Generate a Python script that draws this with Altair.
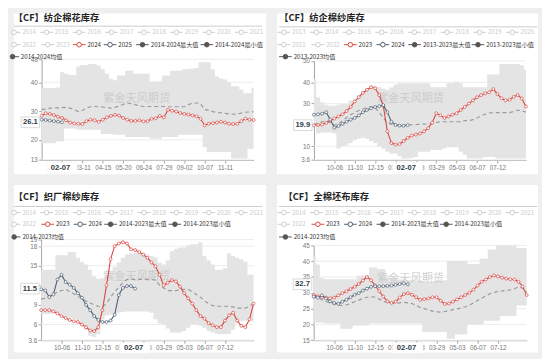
import altair as alt
import pandas as pd

N_WEEKS = 53
FONT_CJK = "Noto Sans CJK SC"
FONT_LAT = "Liberation Sans"
RED = "#d9463f"
DARK = "#4b5d70"
MEAN_C = "#9a9a9a"
BAND_C = "#e4e4e4"
GRID_C = "#ebebeb"
AXIS_C = "#a0a0a0"
LABEL_C = "#777777"
OFF_C = "#cccccc"
STAT_C = "#555555"
TXT_C = "#333333"
PTR_C = "#2f3b48"

watermark = "紫金天风期货"

# ---------------- panel 1 : 纺企棉花库存 ----------------
p1_title = "【CF】纺企棉花库存"
p1_off_years = ["2014", "2015", "2016", "2017", "2018", "2019", "2020", "2021", "2022", "2023"]
p1_on_years = ["2024", "2025"]
p1_stats = ["2014-2024最大值", "2014-2024最小值", "2014-2024均值"]
p1_xlabels = ["02-07", "03-11", "04-15", "05-20", "06-24", "07-29", "09-02", "10-07", "11-11"]
p1_yticks = [13, 20, 30, 40, 48]
p1_ydom = [13, 48]
p1_max = [38, 38, 38, 38, 38.2, 43.5, 43, 42.5, 42.5, 45.5, 46, 46, 46.4, 46.4, 45.8, 44.5, 43, 41.2,
          40.7, 42.4, 42.4, 44, 44, 43, 43, 43, 43, 40.3, 40.3, 40.3, 42.4, 42.4, 44, 44, 44, 44.5,
          44.7, 44.7, 45, 47, 47, 47, 44.5, 42, 41.3, 41, 40, 38.6, 38.6, 37.5, 36.2, 36.2, 38]
p1_min = [18.8, 18.8, 18.8, 18.8, 19.5, 19.5, 23.9, 23.9, 23.9, 23.5, 23.5, 23.5, 23.5, 23.5, 23.5,
          22, 22, 22, 21.8, 21.8, 21.8, 21, 21, 21, 21, 21, 21, 20.4, 20.4, 20.4, 21, 21, 21, 21,
          21.8, 21.8, 21.8, 21.8, 21.8, 21.8, 17.5, 15.8, 15.8, 15.8, 15.8, 15.8, 15.8, 13.5, 13.5,
          13.5, 13.5, 16.8, 16.8]
p1_mean = [30.5, 30.7, 31, 31.1, 31.1, 31.2, 31.3, 31, 30.5, 29.8, 30.3, 31, 31.5, 31.6, 31.5, 31.4,
           31.2, 31, 31.3, 31.8, 32.3, 32.8, 32.6, 32.2, 31.8, 31.6, 31.6, 31.6, 31.6, 31.6, 31.6,
           31.5, 31.5, 31.5, 31.5, 31.5, 32.2, 32.8, 32.8, 32.6, 30.5, 30.3, 29.8, 29.5, 29.4, 29.2,
           29, 28.9, 29, 29.3, 29.6, 29.7, 29.7]
p1_a = [28.4, 29.2, 29, 28.6, 28, 27.6, 26.8, 26, 25.7, 25.6, 25.5, 26.5, 27, 26.8, 26.3, 27, 27.8,
        28.3, 28.7, 28.4, 27.6, 27, 26.6, 26.6, 26.8, 26.4, 26.5, 27.3, 27.5, 28.3, 27.8, 30.4, 30.1,
        29.8, 29.3, 29, 28.8, 28.5, 28.2, 27.3, 25, 25.6, 25.8, 26, 26.3, 26, 25.6, 25.5, 25.6, 26.5,
        27.4, 27, 26.9]
p1_b = [27, 26.9, 26.7, 26.5, 26.3, 26.1]
p1_ptr = ("02-07", 5, 26.1)

# ---------------- panel 2 : 纺企棉纱库存 ----------------
p2_title = "【CF】纺企棉纱库存"
p2_off_years = ["2013", "2014", "2015", "2016", "2017", "2018", "2019", "2020", "2021", "2022"]
p2_on_years = ["2023", "2024"]
p2_stats = ["2013-2023最大值", "2013-2023最小值", "2013-2023均值"]
xl_season = ["10-06", "11-10", "12-15", "01-19", "02-23", "03-29", "05-03", "06-07", "07-12"]
p2_yticks = [3.6, 10, 20, 30, 40, 50]
p2_ydom = [3.6, 50]
p2_max = [41.5, 33, 30.5, 29.5, 29, 29, 29.5, 30, 30, 31.5, 32, 33.8, 35.8, 37.2, 38.4, 38, 37.7, 37,
          36.5, 37.5, 39, 39.5, 39.5, 39.5, 39.5, 39.5, 39.5, 39.5, 39.5, 37.7, 37.7, 37.7, 37.7,
          39.5, 39.5, 40.3, 39.5, 37.7, 37.7, 37.7, 37.7, 37.7, 37.7, 43.7, 43.7, 43.7, 48.6, 48.6,
          48.6, 48.6, 48.6, 48, 46]
p2_min = [19.6, 16, 16.5, 16.5, 16.5, 16, 9, 10, 10.5, 11.5, 12.8, 13.5, 14, 13.5, 12.5, 11.5, 10, 9,
          7.5, 6.6, 6.6, 5.5, 4.3, 4.3, 4.5, 5, 7.4, 7.4, 7.4, 8.3, 8.3, 8.3, 9, 9.6, 9.6, 9.6, 7.4, 6,
          4.3, 4.3, 4.3, 4.3, 5, 5, 5, 4.3, 4.3, 4.3, 4.3, 4.3, 4.3, 4.3, 4.3]
p2_mean = [20.2, 20.8, 21.5, 22, 21, 20, 20.5, 22, 23.5, 24.8, 25.8, 26.8, 27.5, 28.2, 28.6, 28, 26,
           23.3, 21, 20.2, 19.8, 19.8, 19.9, 20, 20.1, 20.2, 20.3, 20.4, 20.5, 20.8, 21.2, 21.5, 21.5,
           21.5, 21.5, 21.5, 21.6, 22, 22, 22.5, 23.3, 24.3, 25, 25.6, 25.8, 25.8, 25.8, 25.8, 25.8,
           26.3, 26.9, 26.7, 26]
p2_a = [19.8, 20, 20.2, 21, 22, 23, 24, 25, 26.5, 28.5, 31, 33, 35, 36.5, 37.7, 37.2, 34, 29, 17,
        11.5, 10.8, 11, 12.5, 14, 15, 15.5, 16, 17, 18.5, 21, 25.5, 24.5, 23.3, 24, 24.8, 25.5, 27,
        28.5, 30, 31.5, 33, 34, 34.8, 35.3, 36.8, 34.5, 32.5, 31.5, 31.8, 33.2, 34, 32.4, 28.6]
p2_b = [24.8, 25, 25.3, 26, 22.5, 18.7, 19.5, 20.5, 21.5, 22.5, 23.3, 24.5, 26, 27, 27.8, 28.4, 28.8,
        29.3, 26, 21.5, 20, 19.7, 19.6, 19.9]
p2_ptr = ("02-07", 23, 19.9)

# ---------------- panel 3 : 织厂棉纱库存 ----------------
p3_title = "【CF】织厂棉纱库存"
p3_off_years = ["2014", "2015", "2016", "2017", "2018", "2019", "2020", "2021", "2022"]
p3_on_years = ["2023", "2024"]
p3_stats = ["2014-2023最大值", "2014-2023最小值", "2014-2023均值"]
p3_yticks = [3.6, 6, 9, 12, 15, 18, 19]
p3_ydom = [3.6, 19]
p3_max = [14.4, 14.4, 14.4, 14.4, 16.6, 16.6, 16.6, 17.1, 17.1, 16.2, 15.6, 15.2, 14.4, 13.4, 13,
          13.1, 13.6, 14, 14.8, 15.5, 16.2, 16.7, 16.9, 16.9, 16.9, 16.9, 16.7, 16.5, 16.3, 15.5,
          15.2, 15.8, 17.2, 17.6, 17.8, 17.8, 18.1, 18.3, 18.3, 18.6, 16.5, 15.8, 15.2, 14.4, 14.4,
          14.6, 16.9, 16.5, 16.2, 16, 15.6, 13.6, 13.6]
p3_min = [7.6, 7.6, 7.6, 7.8, 7.8, 7.6, 7.3, 7.1, 6.9, 6.7, 6.2, 5.2, 4.3, 4.1, 4.5, 6.8, 7.4, 7.5,
          7.6, 7.8, 7.9, 8, 8, 8, 8, 8, 8, 7.8, 6.8, 6.2, 6, 5.4, 4.8, 4.8, 4.8, 5, 5.5, 6, 6, 5.8,
          5.5, 5, 4.8, 4.6, 4.5, 4.5, 4.6, 5.2, 6.3, 6.5, 6.6, 6.6, 6.5]
p3_mean = [9.9, 10, 10.3, 10.6, 11, 11.2, 11.4, 11, 10.7, 10.3, 10, 9.6, 9.3, 9, 8.8, 8.7, 9.2, 10.2,
           11, 11.7, 12.4, 12.9, 12.9, 12.9, 12.9, 12.9, 12.9, 12.9, 12.8, 12, 11.6, 11.2, 11.2,
           11.2, 11.3, 11.4, 11.4, 11, 10.6, 10.2, 9.6, 9.2, 8.9, 8.8, 8.8, 8.8, 8.8, 8.7, 8.5, 8.5,
           8.5, 8.8, 9.2]
p3_a = [8.2, 8.2, 8.2, 8, 7.7, 7.3, 7, 6.7, 6.5, 6.4, 6, 5.6, 5.1, 5, 5.6, 8.2, 12, 16, 18, 18.4,
        18.6, 18.4, 17.5, 17.4, 17.1, 16.7, 16.2, 15.5, 14.9, 13.6, 12, 12.4, 12.8, 12.6, 11.8, 10.8,
        10, 9.2, 8.2, 7.3, 6.9, 6.2, 5.9, 5.6, 5.6, 6.6, 7.4, 7.8, 6.6, 5.8, 5.6, 6.8, 9.2]
p3_b = [11.4, 11.2, 10.2, 10.6, 12.9, 13.6, 12.5, 12.1, 11.6, 10.8, 10.1, 9.0, 8.2, 7.3, 6.7, 6.4,
        6.4, 6.6, 7.5, 10.5, 11.6, 11.9, 11.9, 11.5]
p3_ptr = ("02-07", 23, 11.5)

# ---------------- panel 4 : 全棉坯布库存 ----------------
p4_title = "【CF】全棉坯布库存"
p4_off_years = ["2014", "2015", "2016", "2017", "2018", "2019", "2020", "2021", "2022"]
p4_on_years = ["2023", "2024"]
p4_stats = ["2014-2023最大值", "2014-2023最小值", "2014-2023均值"]
p4_yticks = [15, 20, 25, 30, 35, 40, 45]
p4_ydom = [15, 45]
p4_max = [41.6, 39, 34.7, 34.3, 34.3, 34.3, 34.3, 34.3, 34.3, 34.3, 34.3, 35.5, 35.5, 35.5, 38, 38,
          37.5, 37.5, 35, 34.5, 34.5, 34.2, 34.2, 34, 34, 33.8, 33.8, 33.5, 33.5, 33.5, 33.8, 33.8,
          34, 40.1, 40.1, 40.1, 40.1, 40.1, 39.1, 39.1, 39.1, 40.8, 40.8, 43.7, 43.7, 45, 45, 45, 45,
          45, 44.2, 44.2, 44.2]
p4_min = [20.6, 20.6, 20.6, 20.3, 20.3, 20.3, 20.3, 18.6, 18.6, 18.6, 19.7, 19.7, 19.7, 19.7, 20.3,
          20.3, 20.3, 20.3, 20.3, 20.3, 20.3, 20.3, 20.3, 20.3, 20.3, 20.3, 20.3, 17.6, 17.6, 17.6,
          17.6, 17.6, 17.6, 15.5, 15.5, 16.8, 16.8, 16.8, 20, 20, 20, 20, 21.2, 21.2, 21.2, 21.2,
          22.7, 22.7, 22.7, 22.7, 26, 26, 26]
p4_mean = [29.3, 28.5, 27.8, 27.3, 26.8, 26.3, 26.1, 26, 26.2, 26.6, 27.2, 27.7, 28.2, 28.6, 28.8,
           28.6, 28, 27.3, 27, 26.8, 26.6, 26.8, 27, 26.8, 26.6, 26, 25.4, 25, 24.6, 24.2, 24, 23.9,
           24.1, 24.4, 24.7, 24.9, 25.2, 25.6, 26.1, 26.8, 27.6, 28.3, 29, 29.7, 30.1, 30.5, 30.6,
           30.8, 30.9, 31.3, 31.9, 31.5, 30.3]
p4_a = [29.3, 28.9, 28.6, 28.5, 28.3, 28.5, 29.2, 29.9, 30.5, 31.2, 31.9, 32.8, 33.9, 35, 34, 32.3,
        30.5, 28.8, 27.3, 26.8, 27.2, 28.5, 29.6, 29.9, 29.4, 28.6, 27.8, 28, 28.2, 28.6, 28.6, 27.5,
        26.5, 26.6, 27.2, 27.9, 28.6, 29.3, 30, 31, 32.3, 33.5, 34.2, 35, 35.5, 35.2, 34.8, 34.5,
        34.3, 34.2, 33.5, 32, 29.3]
p4_b = [28.8, 28.5, 29.2, 28.2, 27.3, 26.8, 26.5, 27.2, 27.8, 28.6, 29.4, 29.9, 30.7, 31.3, 31.9,
        32.1, 32.1, 32.1, 32.2, 32.3, 32.5, 32.8, 33, 32.7]
p4_ptr = ("02-07", 23, 32.7)

# ---------------- layout (page pixel coordinates of the reference) ----------------
LAYOUT = {
    1: dict(origin=(8, 8), size=(259, 165), plot=(36.5, 254, 55, 158.3), title=(5.3, 12.7),
            sep=(3, 263, 21), rows=(27.3, 40, 52.3), row1_x0=8.3, row1_dx=33.3,
            row2_x=[8.3, 42.7, 75, 106.7, 140, 206], row3_x=6.7, wm=(134, 96)),
    2: dict(origin=(278, 8), size=(268, 165), plot=(316, 533.5, 56.7, 158.3), title=(280.3, 12.7),
            sep=(280, 545, 21.7), rows=(27.3, 40, 52.3), row1_x0=285, row1_dx=33.5,
            row2_x=[285, 320, 353.3, 386.7, 419.3, 484.3], row3_x=286.7, wm=(415, 96)),
    3: dict(origin=(8, 184), size=(259, 172), plot=(36, 254, 240, 343.3), title=(3.7, 196.7),
            sep=(3, 263, 206), rows=(212.3, 224.3, 237.3), row1_x0=8.3, row1_dx=33.3,
            row2_x=[8.3, 42.7, 76, 107.3, 173.3], row3_x=8.3, wm=(134, 278)),
    4: dict(origin=(278, 184), size=(268, 172), plot=(315.7, 534.3, 246, 343.3), title=(284.7, 196.7),
            sep=(280, 545, 206), rows=(212.3, 224.3, 237.3), row1_x0=285, row1_dx=33.5,
            row2_x=[285, 320, 353.3, 386.7, 451.7], row3_x=286.7, wm=(415, 281)),
}

PANELS = {
    1: dict(title=p1_title, off=p1_off_years, on=p1_on_years, stats=p1_stats, xlabels=p1_xlabels,
            yticks=p1_yticks, ydom=p1_ydom, mx=p1_max, mn=p1_min, mean=p1_mean, a=p1_a, b=p1_b, ptr=p1_ptr),
    2: dict(title=p2_title, off=p2_off_years, on=p2_on_years, stats=p2_stats, xlabels=xl_season,
            yticks=p2_yticks, ydom=p2_ydom, mx=p2_max, mn=p2_min, mean=p2_mean, a=p2_a, b=p2_b, ptr=p2_ptr),
    3: dict(title=p3_title, off=p3_off_years, on=p3_on_years, stats=p3_stats, xlabels=xl_season,
            yticks=p3_yticks, ydom=p3_ydom, mx=p3_max, mn=p3_min, mean=p3_mean, a=p3_a, b=p3_b, ptr=p3_ptr),
    4: dict(title=p4_title, off=p4_off_years, on=p4_on_years, stats=p4_stats, xlabels=xl_season,
            yticks=p4_yticks, ydom=p4_ydom, mx=p4_max, mn=p4_min, mean=p4_mean, a=p4_a, b=p4_b, ptr=p4_ptr),
}

COLORS = {"off": OFF_C, "red": RED, "dark": DARK, "stat": STAT_C}


def legend_frame(P, L):
    ox, oy = L["origin"]
    items = []
    r1, r2, r3 = L["rows"]
    for k, lab in enumerate(P["off"][:8]):
        items.append((L["row1_x0"] + k * L["row1_dx"], r1, lab, "off"))
    row2 = [(lab, "off") for lab in P["off"][8:]]
    row2 += [(P["on"][0], "red"), (P["on"][1], "dark")]
    row2 += [(P["stats"][0], "stat"), (P["stats"][1], "stat")]
    for x, (lab, kind) in zip(L["row2_x"], row2):
        items.append((x, r2, lab, kind))
    items.append((L["row3_x"], r3, P["stats"][2], "stat"))
    recs = []
    for x, y, lab, kind in items:
        cx, cy = x - ox, y - oy
        recs.append(dict(lx0=max(cx - 6.5, 0), lx1=cx + 6.5, px=cx, py=cy, tx=cx + 8.5, label=lab,
                         ic=COLORS[kind], fc=(STAT_C if kind == "stat" else "white"),
                         tc=(OFF_C if kind == "off" else TXT_C)))
    return pd.DataFrame(recs)


def build_panel(n):
    P, L = PANELS[n], LAYOUT[n]
    ox, oy = L["origin"]
    W, H = L["size"]
    pl, pr, pt, pb = L["plot"]
    x0, x1, yb, yt = pl - ox, pr - ox, pb - oy, pt - oy

    xs = alt.Scale(domain=[0, N_WEEKS - 1], range=[x0, x1], nice=False, zero=False)
    ys = alt.Scale(domain=P["ydom"], range=[yb, yt], nice=False, zero=False)
    js = "[" + ",".join("'%s'" % s for s in P["xlabels"]) + "]"
    xaxis = alt.Axis(values=[5 * (k + 1) for k in range(len(P["xlabels"]))],
                     labelExpr=js + "[round(datum.value/5)-1]", offset=yb - H, grid=False,
                     domainColor=AXIS_C, tickColor=AXIS_C, tickSize=3, labelColor=LABEL_C,
                     labelFont=FONT_LAT, labelFontSize=6.5, labelPadding=1.5, labelFlush=False,
                     labelOverlap=False, title=None)
    yaxis = alt.Axis(values=P["yticks"], labelExpr="'' + datum.value", offset=-x0, grid=False,
                     domainColor=AXIS_C, tickColor=AXIS_C, tickSize=3, labelColor=LABEL_C,
                     labelFont=FONT_LAT, labelFontSize=6.5, labelPadding=1.5, labelFlush=False,
                     labelOverlap=False, title=None)

    def X(f):
        return alt.X(f, scale=xs, axis=xaxis)

    def Y(f):
        return alt.Y(f, scale=ys, axis=yaxis)

    band_df = pd.DataFrame({"i": list(range(N_WEEKS)), "hi": P["mx"], "lo": P["mn"], "mean": P["mean"]})
    a_df = pd.DataFrame({"i": list(range(len(P["a"]))), "v": P["a"]})
    b_df = pd.DataFrame({"i": list(range(len(P["b"]))), "v": P["b"]})
    grid_df = pd.DataFrame({"v": P["yticks"]})

    grid = alt.Chart(grid_df).transform_calculate(xa="0", xb=str(N_WEEKS - 1)).mark_rule(
        color=GRID_C, strokeWidth=1).encode(x=X("xa:Q"), x2="xb:Q", y=Y("v:Q"))
    band = alt.Chart(band_df).mark_area(color=BAND_C, interpolate="step", opacity=1).encode(
        x=X("i:Q"), y=Y("lo:Q"), y2="hi:Q")
    wm = alt.Chart(pd.DataFrame({"t": [watermark]})).mark_text(
        font=FONT_CJK, fontSize=11.5, color="#c4c4c4", opacity=0.75).encode(
        x=alt.value(L["wm"][0] - ox), y=alt.value(L["wm"][1] - oy), text="t:N")
    mean = alt.Chart(band_df).mark_line(color=MEAN_C, strokeWidth=1.2, strokeDash=[4, 3]).encode(
        x=X("i:Q"), y=Y("mean:Q"))

    def series(df, col):
        return alt.Chart(df).mark_line(
            color=col, strokeWidth=1.1,
            point=alt.OverlayMarkDef(shape="circle", filled=True, fill="white", stroke=col,
                                     strokeWidth=0.7, size=9, opacity=1)).encode(x=X("i:Q"), y=Y("v:Q"))

    red = series(a_df, RED)
    dark = series(b_df, DARK)

    plab, pidx, pval = P["ptr"]
    ptr_df = pd.DataFrame({"i": [pidx], "v": [pval], "xl": [plab], "yl": [str(pval)]})
    bw, bh = 31, 11
    box_x = "M-1,-%.3fL1,-%.3fL1,%.3fL-1,%.3fZ" % ((bh / bw,) * 4)
    yw, yh = 19, 11
    box_y = "M-1,-%.3fL1,-%.3fL1,%.3fL-1,%.3fZ" % ((yh / yw,) * 4)
    xbox = alt.Chart(ptr_df).mark_point(shape=box_x, size=bw * bw, filled=True, fill="white",
                                        stroke="#f3f3f3", strokeWidth=0.6, opacity=1).encode(
        x=X("i:Q"), y=alt.value(yb + 7.8))
    xtxt = alt.Chart(ptr_df).mark_text(font=FONT_LAT, fontSize=7.8, fontWeight="bold", color=PTR_C,
                                       dx=-1.5).encode(x=X("i:Q"), y=alt.value(yb + 7.8), text="xl:N")
    ybox = alt.Chart(ptr_df).mark_point(shape=box_y, size=yw * yw, filled=True, fill="white",
                                        stroke="#cfcfcf", strokeWidth=0.8, opacity=1).encode(
        x=alt.value(x0 - 11.5), y=Y("v:Q"))
    ytxt = alt.Chart(ptr_df).mark_text(font=FONT_LAT, fontSize=7.8, fontWeight="bold", color=PTR_C).encode(
        x=alt.value(x0 - 11.5), y=Y("v:Q"), text="yl:N")

    # header
    title = alt.Chart(pd.DataFrame({"t": [P["title"]]})).mark_text(
        font=FONT_CJK, fontSize=9.5, fontWeight="bold", color="#222222", align="left",
        baseline="middle").encode(x=alt.value(max(L["title"][0] - ox, 0)),
                                  y=alt.value(L["title"][1] - oy), text="t:N")
    sx0, sx1, sy = L["sep"]
    sep = alt.Chart(pd.DataFrame({"k": [0]})).mark_rule(color="#cccccc", strokeWidth=1).encode(
        x=alt.value(max(sx0 - ox, 0)), x2=alt.value(sx1 - ox), y=alt.value(sy - oy))
    leg = legend_frame(P, L)
    leg_line = alt.Chart(leg).mark_rule(strokeWidth=1).encode(
        x=alt.X("lx0:Q", scale=None, axis=None), x2="lx1:Q",
        y=alt.Y("py:Q", scale=None, axis=None), color=alt.Color("ic:N", scale=None))
    leg_pt = alt.Chart(leg).mark_point(filled=True, size=22, strokeWidth=1, opacity=1).encode(
        x=alt.X("px:Q", scale=None, axis=None), y=alt.Y("py:Q", scale=None, axis=None),
        stroke=alt.Stroke("ic:N", scale=None), fill=alt.Fill("fc:N", scale=None))
    leg_txt = alt.Chart(leg).mark_text(font=FONT_CJK, fontSize=6.3, align="left", baseline="middle").encode(
        x=alt.X("tx:Q", scale=None, axis=None), y=alt.Y("py:Q", scale=None, axis=None),
        text="label:N", color=alt.Color("tc:N", scale=None))

    return alt.layer(grid, band, wm, mean, red, dark, xbox, xtxt, ybox, ytxt,
                     title, sep, leg_line, leg_pt, leg_txt).properties(width=W, height=H)


chart = alt.concat(build_panel(1), build_panel(2), build_panel(3), build_panel(4),
                   columns=2, spacing=11, bounds="flush").properties(
    background="#efefef", padding={"left": 0, "top": 0, "right": 4, "bottom": 3}
).configure_view(fill="white", strokeWidth=0)

chart.save("out.html", embed_options={"renderer": "svg", "actions": False})
